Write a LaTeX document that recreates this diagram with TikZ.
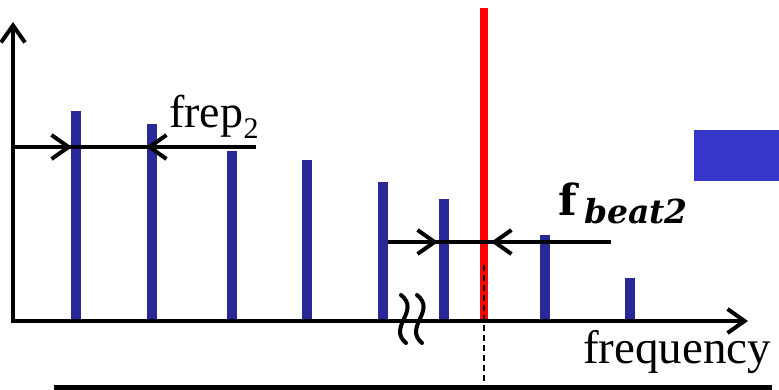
\documentclass[tikz,border=0pt]{standalone}
\usepackage{fontspec}
\setmainfont{Liberation Serif}
\newfontfamily\dvbold{DejaVu Serif}[BoldFont={* Bold},BoldItalicFont={* Bold Italic}]
\usetikzlibrary{arrows.meta}
\definecolor{barblue}{RGB}{40,40,152}
\definecolor{rectblue}{RGB}{54,54,200}
\definecolor{linered}{RGB}{255,0,0}
\tikzset{
  bar/.style={line width=10pt, draw=barblue},
  axisline/.style={line width=4pt, line join=miter},
  tip/.tip={Straight Barb[length=17pt,width=24pt]},
  measure/.style={line width=4pt},
  lbl/.style={anchor=base west, inner sep=0pt, text=black},
  wave/.style={line width=4pt, line cap=round},
}
\begin{document}
\begin{tikzpicture}[x=1pt,y=-1pt]
\useasboundingbox (0,0) rectangle (779,390);
% coordinates
\coordinate (O) at (13,321);
\coordinate (ytop) at (13,22);
\coordinate (xend) at (748,321);
% bars
\foreach \n/\x/\t in {1/76/111,2/152/124,3/232/151,4/307/160,5/383/182,6/444/199,7/545/235,8/630/278}{
  \coordinate (b\n top) at (\x,\t);
  \coordinate (b\n bot) at (\x,321);
  \draw[bar] (b\n bot) -- (b\n top);
}
% red line
\coordinate (redtop) at (484,8);
\coordinate (redbot) at (484,319);
\draw[line width=8pt, draw=linered] (redbot) -- (redtop);
% dashed line
\coordinate (dtop) at (484,265);
\coordinate (dbot) at (484,392);
\draw[line width=1.6pt, dash pattern=on 6pt off 4pt] (dtop) -- (dbot);
% axes
\draw[axisline, tip-tip] (ytop) -- (O) -- (xend);
% frep measure
\coordinate (fa) at (12,147);
\coordinate (fb) at (72,147);
\coordinate (fc) at (146,147);
\coordinate (fd) at (256,147);
\draw[measure] (fa) -- (fd);
\draw[measure, -tip] (fa) -- (fb);
\draw[measure, -tip] (fd) -- (fc);
% fbeat measure
\coordinate (ga) at (388,242);
\coordinate (gb) at (438,242);
\coordinate (gc) at (491,242);
\coordinate (gd) at (611,242);
\draw[measure] (ga) -- (gd);
\draw[measure, -tip] (ga) -- (gb);
\draw[measure, -tip] (gd) -- (gc);
% break marks
\coordinate (w1a) at (401,295);
\coordinate (w1b) at (406,343);
\coordinate (w2a) at (417,295);
\coordinate (w2b) at (422,343);
\draw[wave] (w1a) .. controls (421,311) and (387,327) .. (w1b);
\draw[wave] (w2a) .. controls (437,311) and (403,327) .. (w2b);
% blue rectangle
\fill[rectblue] (694,130) rectangle (779,181);
% bottom line
\coordinate (la) at (54,387);
\coordinate (lb) at (772,387);
\draw[line width=5pt] (la) -- (lb);
% labels
\node[lbl, font=\fontsize{46}{50}\selectfont] (frep) at (169,128) {frep};
\node[lbl, font=\fontsize{30}{34}\selectfont] (frepsub) at (frep.base east) [yshift=-11pt] {2};
\node[lbl, font=\fontsize{43}{47}\selectfont\dvbold\bfseries] (fb) at (558,216) {f};
\node[lbl, font=\fontsize{33}{37}\selectfont\dvbold\bfseries\itshape] (fbsub) at (584,224) {beat2};
\node[lbl, font=\fontsize{47}{51}\selectfont] (freq) at (583,363) {frequency};
\end{tikzpicture}
\end{document}
